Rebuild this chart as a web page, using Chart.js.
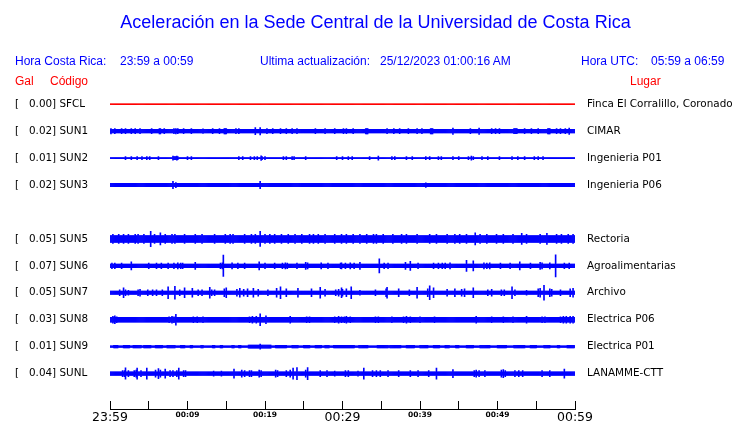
<!DOCTYPE html>
<html><head><meta charset="utf-8">
<script src="https://cdn.jsdelivr.net/npm/chart.js@4/dist/chart.umd.min.js"></script>
<style>
html,body{margin:0;padding:0;background:#fff;}
#wrap{position:relative;width:740px;height:423px;overflow:hidden;}
#c{position:absolute;left:0;top:0;}
.t{position:absolute;font-family:"Liberation Sans",Arial,sans-serif;font-size:12px;line-height:14px;white-space:pre;}
.b{color:#0000ff}.r{color:#ff0000}
</style></head><body>
<div id="wrap">
<canvas id="c" width="740" height="423"></canvas>
<div class="t b" style="left:15px;top:54px">Hora Costa Rica:</div>
<div class="t b" style="left:120px;top:54px">23:59 a 00:59</div>
<div class="t b" style="left:260px;top:54px">Ultima actualización:</div>
<div class="t b" style="left:380px;top:54px">25/12/2023 01:00:16 AM</div>
<div class="t b" style="left:581px;top:54px">Hora UTC:</div>
<div class="t b" style="left:651px;top:54px">05:59 a 06:59</div>
<div class="t r" style="left:15px;top:74px">Gal</div>
<div class="t r" style="left:50px;top:74px">Código</div>
<div class="t r" style="left:630px;top:74px">Lugar</div>
</div>
<script>
// ---------------- DATA ----------------
const title = 'Aceleración en la Sede Central de la Universidad de Costa Rica';
const codes  = ['SFCL','SUN1','SUN2','SUN3','SUN5','SUN6','SUN7','SUN8','SUN9','SUNL'];
const slots  = [0, 1, 2, 3, 5, 6, 7, 8, 9, 10];           // trace slot (SUN4 absent)
const gal    = [0.00, 0.02, 0.01, 0.02, 0.05, 0.07, 0.05, 0.03, 0.01, 0.04];
const places = ['Finca El Corralillo, Coronado','CIMAR','Ingenieria P01','Ingenieria P06',
                'Rectoria','Agroalimentarias','Archivo','Electrica P06','Electrica P01','LANAMME-CTT'];
const timeLabels = ['23:59','00:09','00:19','00:29','00:39','00:49','00:59']; // every 10 min
// background (noise) half-amplitude of each trace, display counts
const baseAmp = [0.5, 1.8, 0.5, 1.7, 3.4, 1.8, 1.7, 2.4, 0.7, 1.8];
// bursts: [minute after 23:59, half-amplitude, duration in minutes (optional)]
const evSFCL = [];
const evSUN1 = [[0.1,2.7],[0.65,2.5],[1.5,2.5],[2.0,2.5],[2.7,2.5],[3.2,2.5],[3.9,2.5],[5.4,2.5],[6.45,2.7,0.3],[7.0,2.5],[8.2,2.5],[8.5,2.7],[8.8,2.5],[9.5,2.5],[10.45,2.5],[12.0,2.3],[13.3,2.5],[14.1,2.5],[14.9,2.7,0.4],[16.3,2.5],[16.6,2.5],[18.8,3.5],[19.35,3.7],[20.2,2.5],[20.95,2.5],[22.0,2.5],[22.7,2.5],[23.5,2.5],[24.1,2.5],[26.5,2.5],[27.7,2.5],[29.0,2.5],[30.1,2.5],[30.5,2.5],[31.4,2.5],[33.1,2.7,0.3],[35.8,2.5],[36.6,2.5],[37.4,2.5],[38.5,2.5],[39.6,2.5],[40.2,2.5],[41.5,2.7,0.4],[44.3,3.2],[46.5,2.5],[47.6,3.2],[49.3,2.5],[49.7,2.5],[50.3,2.5],[52.3,2.5,0.4],[53.5,2.5],[54.4,2.5],[55.3,2.5],[56.6,2.7,0.4],[57.6,2.5],[58.1,2.5],[58.7,2.5],[59.3,3.2]];
const evSUN2 = [[2.06,1.5],[2.8,1.5],[3.5,1.5],[4.17,1.5],[4.7,1.5],[5.07,1.5],[6.24,1.5],[8.1,2],[8.3,1.5,0.4],[8.6,2],[8.8,1.5],[10.0,1.5],[10.45,1.5],[16.6,1.5],[17.1,1.5],[18.15,1.5],[18.6,1.5],[19.0,1.5],[19.5,2.3],[19.65,1.5],[20.0,1.5],[22.4,1.5],[22.8,1.5],[23.5,1.5],[23.8,1.5],[25.25,1.5],[29.25,1.5],[30.0,1.5],[30.75,1.5],[31.2,1.5],[33.55,1.5],[34.6,2],[36.35,1.5],[36.8,1.5],[38.3,1.5],[39.05,1.5],[40.8,1.5],[41.2,1.5],[42.4,1.5],[42.8,1.5],[44.3,1.5],[44.95,1.5],[46.3,1.5],[46.6,2],[46.9,1.5],[47.95,1.5],[48.8,1.5],[50.3,1.5],[51.9,1.5],[52.6,1.5],[53.55,1.5],[54.8,1.5],[55.3,1.5],[55.9,1.5]];
const evSUN3 = [[8.17,3.7],[8.5,2.5],[19.4,3.7],[40.73,2.3]];
const evSUN5 = [[0.43,4.6],[1.08,4.6],[1.72,4.6],[2.37,4.6],[3.23,4.6],[3.66,4.6],[4.43,4.6],[5.2,7.7],[5.8,4.6],[6.54,6],[7.1,4.6],[7.96,4.6],[8.39,4.6],[9.68,4.6],[10.97,4.6],[11.83,4.6],[13.55,4.6],[14.84,4.6],[15.48,4.6],[15.91,4.6],[17.42,4.6],[18.28,4.6],[18.7,4.6],[19.35,7.5],[20.0,4.6],[20.64,4.6],[21.29,4.6],[22.15,4.6],[23.0,4.6],[23.87,4.6],[24.73,4.6],[25.8,4.6],[26.24,4.6],[26.88,4.6],[27.74,4.6],[29.03,4.6],[29.89,4.6],[30.54,4.6],[31.4,4.6],[32.26,4.6],[33.12,4.6],[33.98,4.6],[34.41,4.6],[35.27,4.6],[36.56,4.6],[37.63,4.6],[38.28,4.6],[39.57,4.6],[41.29,4.6],[42.15,4.6],[43.44,4.6],[44.52,4.6],[45.16,4.6],[46.02,4.6],[47.1,6],[47.74,4.6],[48.6,4.6],[49.89,4.6],[50.75,4.6],[52.04,4.6],[53.12,5.5],[53.76,4.6],[55.48,4.6],[56.34,5.5],[57.63,4.6],[58.28,4.6],[59.14,4.6],[59.78,4.6]];
const evSUN6 = [[0.3,2.8],[0.6,2.8],[1.5,2.8],[2.71,4],[4.95,2.8],[6.02,2.8],[6.67,2.8],[7.53,2.8],[8.3,2.8],[8.7,3],[9.1,2.8],[9.4,2.8],[10.97,3.5],[14.2,2.8],[14.45,3],[14.62,10.7],[15.7,3],[16.56,2.8],[17.42,2.8],[19.22,4],[20.0,2.8],[21.29,2.8],[22.2,2.8],[22.58,3],[22.9,2.8],[24.09,2.8],[25.3,3.5],[25.5,3],[27.23,3],[28.17,2.8],[29.7,2.8],[29.89,3],[30.4,2.8],[30.97,3],[31.5,2.8],[32.26,3.5],[34.75,7],[35.4,2.8],[35.9,2.8],[38.15,3.5],[38.71,4.5],[39.78,2.8],[41.8,2.8],[42.4,2.8],[42.9,2.8],[43.3,2.8],[43.87,3],[46.02,5.5],[46.88,5],[48.2,3],[48.6,2.8],[49.0,3],[50.32,2.8],[51.61,2.8],[52.9,4],[54.19,2.8],[55.5,3.5],[55.7,3],[56.77,3],[57.46,11],[58.6,2.8],[59.2,2.8]];
const evSUN7 = [[1.3,3],[1.72,5],[2.0,3],[2.37,2.5],[3.6,3],[3.9,3.5],[4.9,3],[5.46,3],[6.0,3],[6.75,3],[7.53,6],[8.39,6.5],[9.03,3],[9.68,5],[10.62,4.5],[11.4,3],[11.9,3],[12.9,5.5],[13.1,3],[13.55,3],[14.8,4],[15.0,5],[16.4,3.5],[16.8,4.5],[17.3,3.5],[17.7,4],[18.49,4.5],[19.14,3.5],[20.43,3],[21.5,4.5],[22.06,6],[22.8,4],[24.2,4.5],[26.02,4],[27.1,5.5],[27.74,3.5],[29.1,3],[29.5,3.5],[29.89,5],[30.0,3.5],[30.5,4],[31.18,6],[32.26,2.5],[34.2,3],[35.6,4],[35.7,5.5],[37.2,4],[38.58,3],[39.57,5.5],[41.0,4],[41.29,7],[41.8,5],[43.53,3.5],[44.52,4],[45.4,3.5],[45.8,4],[46.88,5],[48.8,3],[49.2,3.5],[50.5,3],[50.9,3],[51.83,6],[52.26,3],[53.76,2.5],[55.2,4],[55.5,4.5],[56.04,7.5],[56.7,4],[57.0,3.5],[58.07,3],[59.4,4],[59.7,4.5]];
const evSUN8 = [[0.4,3.5],[0.65,4],[0.9,3],[7.6,3],[7.96,3.5],[8.3,3],[8.52,5.5],[10.7,3],[11.2,3],[12.0,3],[18.0,3],[18.4,3.5],[18.9,3.5],[19.35,6],[20.1,4],[23.2,3.5],[25.4,3],[25.8,3],[29.0,3],[29.46,3.5],[29.9,3],[30.2,3],[30.54,3.5],[31.0,3],[34.2,3],[34.6,3],[36.35,3],[37.9,3],[38.28,3.5],[38.7,3],[40.0,3],[41.93,3],[47.31,3.5],[49.25,3],[50.75,3],[52.04,3],[53.76,3.5],[55.7,3],[56.1,3],[58.1,3],[58.5,3.5],[58.92,3.5],[59.4,3.5],[59.8,3.5]];
const evSUN9 = [[0.73,1.4,0.6],[2.15,1.4,0.9],[3.53,1.4,1.1],[4.82,1.4,1.1],[6.32,1.4,1.1],[7.83,1.4,1.1],[9.33,1.4,0.6],[10.54,1.4,0.4],[11.83,1.4,0.4],[13.33,1.4,0.4],[14.41,1.4,0.4],[15.91,1.4,0.4],[16.77,1.4,0.4],[19.35,1.6,3],[19.4,2.5],[22.02,1.4,1.5],[23.87,1.4,0.9],[25.38,1.4,0.9],[26.88,1.4,0.9],[28.04,1.4,0.6],[29.55,1.4,1.5],[30.62,1.4,1.9],[32.69,1.4,1.3],[35.14,1.4,1.5],[36.86,1.4,1.5],[38.8,1.4,1.1],[40.52,1.4,1.1],[42.15,1.4,0.9],[43.53,1.4,0.6],[44.82,1.4,0.6],[46.45,1.4,0.9],[48.39,1.4,1.3],[50.54,1.4,1.3],[52.77,1.4,1.5],[54.62,1.4,0.9],[56.34,1.4,0.9],[57.85,1.4,0.4],[59.44,1.4,1.1]];
const evSUNL = [[1.6,3],[1.85,3],[2.02,5.7],[2.37,3],[3.1,3],[3.35,3.5],[3.53,5.5],[4.0,3],[4.73,5.5],[5.9,3.5],[6.24,5],[6.5,3.5],[7.18,4.5],[7.8,3],[8.1,3],[8.6,3],[8.9,5.5],[9.5,3],[9.8,3],[13.33,2.5],[14.41,2.5],[16.04,4.5],[17.0,3.5],[17.4,3],[18.0,3],[18.2,3],[19.2,3.5],[19.5,3],[21.4,3.5],[21.6,3],[22.8,3],[23.3,3.5],[23.65,5.5],[24.09,6],[25.46,6],[25.3,3.5],[27.1,3],[27.96,3],[29.03,2.5],[30.4,3],[30.7,3],[32.04,2.5],[32.69,5.5],[33.9,3],[34.4,3],[34.9,3],[35.9,3],[37.2,3],[38.71,3],[39.78,3],[41.07,3],[42.15,5.5],[44.3,4],[47.0,3],[47.31,3.5],[47.6,3],[48.39,3],[50.5,3.5],[50.75,4],[51.0,3],[52.2,3],[52.7,3],[53.2,3],[55.7,3],[56.77,3],[58.58,4.5]];
const events = [evSFCL, evSUN1, evSUN2, evSUN3, evSUN5, evSUN6, evSUN7, evSUN8, evSUN9, evSUNL];

// ---------------- BUILD ----------------
const STEP = 0.125;           // sampling of the envelope, minutes
const COUNTS_PER_SLOT = 27;   // display counts per trace slot
const times = [];
for (let i = 0; i <= 60 / STEP; i++) times.push(i * STEP);

function envelope(base, evs) {
  return times.map(t => {
    let a = base;
    for (const e of evs) {
      const w = e[2] || STEP;
      if (Math.abs(t - e[0]) <= w / 2 + 1e-9) a = Math.max(a, e[1]);
    }
    return a;
  });
}

const traceColors = codes.map(c => c === 'SFCL' ? '#ff0000' : '#0000ff');
const datasets = codes.map((code, k) => {
  const env = envelope(baseAmp[k], events[k]);
  return {
    label: code,
    data: times.map((t, i) => {
      const a = env[i] / COUNTS_PER_SLOT;
      return { x: t, y: [slots[k] - a, slots[k] + a] };
    }),
    backgroundColor: traceColors[k],
    borderWidth: 0,
    grouped: false,
    barPercentage: 1,
    categoryPercentage: 1
  };
});

const leftLabels = codes.map((c, k) => '[   ' + gal[k].toFixed(2) + '] ' + c);
const slotTicks = (scale) => { scale.ticks = slots.map(v => ({ value: v })); };
const labelFont = { family: "'DejaVu Sans', sans-serif", size: 10.4 };

new Chart(document.getElementById('c'), {
  type: 'bar',
  data: { datasets },
  options: {
    responsive: false,
    animation: false,
    events: [],
    layout: { padding: { left: 15, right: 4, top: 0, bottom: 0 } },
    plugins: {
      legend: { display: false },
      tooltip: { enabled: false },
      title: {
        display: true, text: title, color: '#0000ff',
        font: { family: "'Liberation Sans', Arial, sans-serif", size: 18, weight: 'normal', lineHeight: 1.2 },
        padding: { top: 12, bottom: 57.2 }
      }
    },
    scales: {
      x: {
        type: 'linear', position: 'bottom', min: 0, max: 60, offset: false, weight: 0,
        afterFit: (s) => { s.height = 9; },
        grid: { display: true, offset: false, drawOnChartArea: false, drawTicks: true, tickLength: 9, color: '#000', lineWidth: 1 },
        border: { display: false },
        ticks: { display: false, stepSize: 5 }
      },
      x2: {
        type: 'linear', position: 'bottom', min: 0, max: 60, offset: false, weight: 1,
        afterFit: (s) => { s.height = 13.5; },
        grid: { display: true, offset: false, drawOnChartArea: false, drawTicks: false },
        border: { display: true, color: '#000', width: 1 },
        ticks: {
          stepSize: 10, padding: 2, color: '#000', maxRotation: 0, autoSkip: false,
          callback: (v) => timeLabels[Math.round(v / 10)],
          font: (ctx) => (ctx.index % 3 === 0)
            ? { family: "'DejaVu Sans', sans-serif", size: 12.5, lineHeight: 1.0 }
            : { family: "'DejaVu Sans', sans-serif", size: 7.5, weight: 'bold', lineHeight: 1.0 }
        }
      },
      y: {
        type: 'linear', position: 'left', min: -0.5, max: 11, reverse: true,
        afterBuildTicks: slotTicks,
        afterFit: (s) => { s.width = 95; },
        grid: { display: false, drawTicks: false },
        border: { display: false },
        ticks: {
          crossAlign: 'far', padding: 12, color: '#000', font: labelFont,
          callback: (v, i) => leftLabels[i]
        }
      },
      y2: {
        type: 'linear', position: 'right', min: -0.5, max: 11, reverse: true,
        afterBuildTicks: slotTicks,
        afterFit: (s) => { s.width = 161; },
        grid: { display: false, drawTicks: false },
        border: { display: false },
        ticks: {
          crossAlign: 'near', padding: 12, color: '#000', font: labelFont,
          callback: (v, i) => places[i]
        }
      }
    }
  }
});
</script>
</body></html>
